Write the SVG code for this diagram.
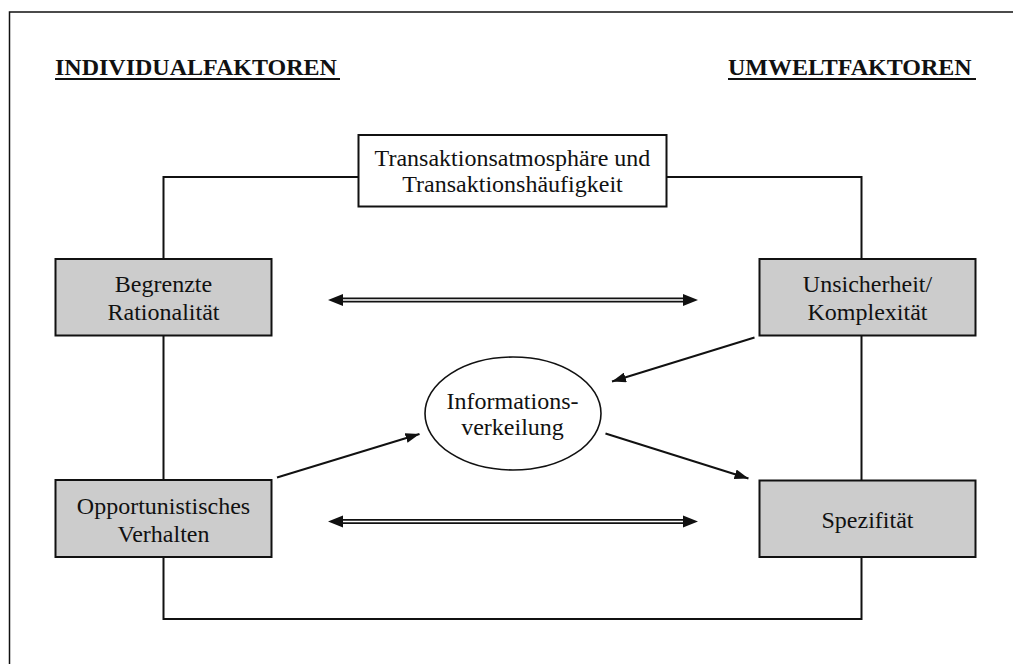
<svg xmlns="http://www.w3.org/2000/svg" width="1013" height="664" viewBox="0 0 1013 664">
<defs>
<style>
text{font-family:"Liberation Serif","Times New Roman",serif;font-size:24px;fill:#111;text-anchor:middle}
.h{font-weight:bold;text-anchor:start}
.box{fill:#cccccc;stroke:#111;stroke-width:2}
.wbox{fill:#fff;stroke:#111;stroke-width:2}
.ln{fill:none;stroke:#111;stroke-width:2}
.ah{fill:#111;stroke:none}
.dbo{stroke:#111;stroke-width:5;fill:none}
.dbi{stroke:#fff;stroke-width:1.6;fill:none}
</style>
<marker id="arr" viewBox="0 0 14 10" refX="14" refY="5" markerWidth="14" markerHeight="10" markerUnits="userSpaceOnUse" orient="auto">
<path d="M0,0 L14,5 L0,10 Z" fill="#111"/>
</marker>
</defs>
<rect width="1013" height="664" fill="#fff"/>
<rect x="9.5" y="12" width="1010" height="660" fill="none" stroke="#111" stroke-width="1.5"/>

<g id="headings">
<text class="h" x="55" y="75">INDIVIDUALFAKTOREN</text>
<line x1="55" y1="79" x2="340" y2="79" stroke="#111" stroke-width="2"/>
<text class="h" x="728" y="75">UMWELTFAKTOREN</text>
<line x1="728" y1="79" x2="976" y2="79" stroke="#111" stroke-width="2"/>
</g>

<g id="connectors">
<path class="ln" d="M358.5,177 H163.5 V619 H861.5 V177 H666.5"/>
<line class="dbo" x1="340" y1="300" x2="686" y2="300"/>
<line class="dbi" x1="340" y1="300" x2="686" y2="300"/>
<polygon class="ah" points="328,300 343,294 343,306"/>
<polygon class="ah" points="698,300 683,294 683,306"/>
<line class="dbo" x1="340" y1="521.5" x2="686" y2="521.5"/>
<line class="dbi" x1="340" y1="521.5" x2="686" y2="521.5"/>
<polygon class="ah" points="328,521.5 343,515.5 343,527.5"/>
<polygon class="ah" points="698,521.5 683,515.5 683,527.5"/>
<line class="ln" x1="754.5" y1="337.5" x2="612" y2="381.5" marker-end="url(#arr)"/>
<line class="ln" x1="277" y1="477.5" x2="419.5" y2="434" marker-end="url(#arr)"/>
<line class="ln" x1="605.5" y1="433.5" x2="748.5" y2="478.5" marker-end="url(#arr)"/>
</g>

<g id="transaktion">
<rect class="wbox" x="358.5" y="135" width="308" height="71.5"/>
<text x="512.5" y="166">Transaktionsatmosphäre und</text>
<text x="512.5" y="192">Transaktionshäufigkeit</text>
</g>

<g id="begrenzte">
<rect class="box" x="55.5" y="259" width="216" height="76.5"/>
<text x="163.5" y="291.5">Begrenzte</text>
<text x="163.5" y="319.5">Rationalität</text>
</g>

<g id="unsicherheit">
<rect class="box" x="759.5" y="259" width="216" height="76.5"/>
<text x="867.5" y="291.5">Unsicherheit/</text>
<text x="867.5" y="319.5">Komplexität</text>
</g>

<g id="opportunistisch">
<rect class="box" x="55.5" y="480" width="216" height="77"/>
<text x="163.5" y="513.5">Opportunistisches</text>
<text x="163.5" y="541.5">Verhalten</text>
</g>

<g id="spezifitaet">
<rect class="box" x="759.5" y="480.5" width="216" height="76.5"/>
<text x="867.5" y="528">Spezifität</text>
</g>

<g id="information">
<ellipse cx="513" cy="413.5" rx="88" ry="56.5" fill="#fff" stroke="#111" stroke-width="1.6"/>
<text x="512.5" y="408.5">Informations-</text>
<text x="512.5" y="435">verkeilung</text>
</g>
</svg>
